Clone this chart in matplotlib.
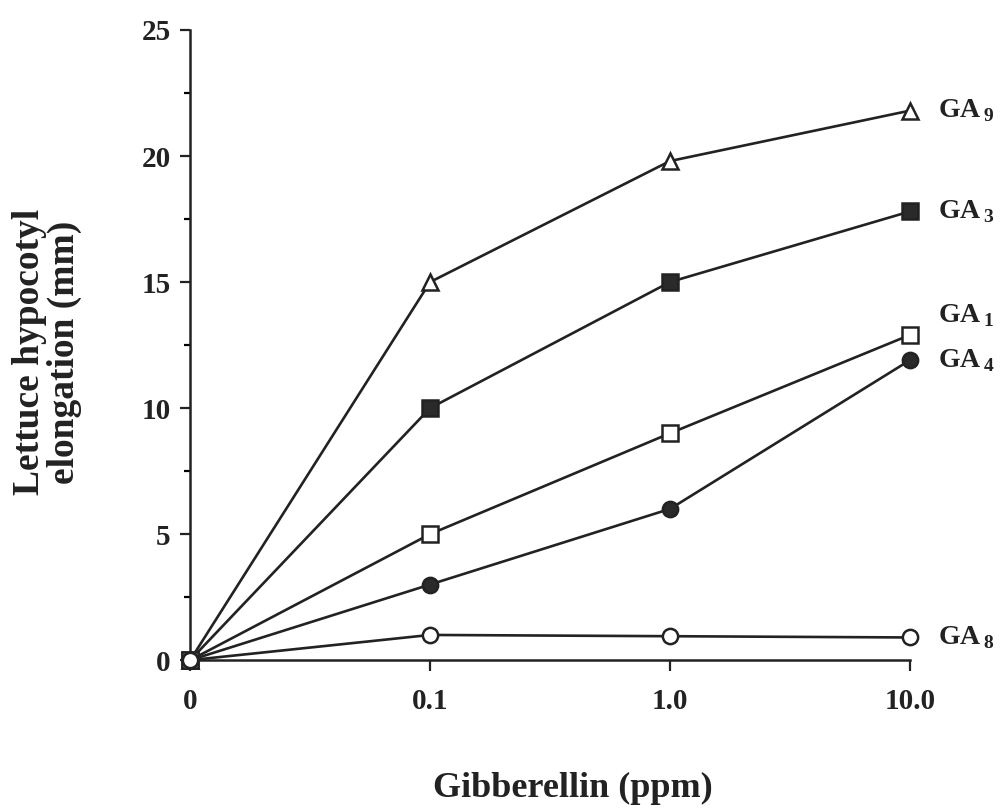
import matplotlib.pyplot as plt
from matplotlib.ticker import MultipleLocator

plt.rcParams['font.family'] = 'Liberation Serif'
plt.rcParams['font.weight'] = 'bold'
plt.rcParams['mathtext.fontset'] = 'custom'
plt.rcParams['mathtext.rm'] = 'Liberation Serif:bold'
plt.rcParams['mathtext.bf'] = 'Liberation Serif:bold'

# gibberellin doses (plotted at equal spacing)
doses = ['0', '0.1', '1.0', '10.0']

# hypocotyl elongation (mm) for each gibberellin
ga9 = [0, 15.0, 19.8, 21.8]
ga3 = [0, 10.0, 15.0, 17.8]
ga1 = [0, 5.0, 9.0, 12.9]
ga4 = [0, 3.0, 6.0, 11.9]
ga8 = [0, 1.0, 0.95, 0.9]

series = [
    (ga9, '^', 'white', '9', 0),
    (ga3, 's', '#2a2a2a', '3', 0),
    (ga1, 's', 'white', '1', 14),
    (ga4, 'o', '#2a2a2a', '4', 0),
    (ga8, 'o', 'white', '8', 0),
]

fig = plt.figure(figsize=(10.01, 8.10), dpi=100)
ax = fig.add_axes([0.19, 0.185, 0.719, 0.778])

x = list(range(len(doses)))
for vals, mk, face, sub, dy in series:
    ax.plot(x, vals, color='#222222', lw=1.9, marker=mk, ms=11,
            mfc=face, mec='#222222', mew=1.8, clip_on=False, zorder=3)
    ax.annotate(r'GA$_{\,' + sub + '}$', xy=(x[-1], vals[-1]),
                xytext=(20, dy), textcoords='offset points',
                va='center', ha='left', fontsize=20, color='#222222',
                annotation_clip=False)

ax.set_xlim(0, 3)
ax.set_ylim(0, 25)
ax.set_xticks(x)
ax.set_xticklabels(doses)
ax.yaxis.set_major_locator(MultipleLocator(5))
ax.yaxis.set_minor_locator(MultipleLocator(2.5))

for s in ['top', 'right']:
    ax.spines[s].set_visible(False)
for s in ['left', 'bottom']:
    ax.spines[s].set_linewidth(1.8)
    ax.spines[s].set_color('#222222')

ax.tick_params(axis='y', which='major', length=7, width=1.6, pad=7,
               labelsize=21, colors='#222222')
ax.tick_params(axis='y', which='minor', length=4, width=1.6)
ax.tick_params(axis='x', length=8, width=1.6, pad=12, labelsize=21,
               colors='#222222')

fig.text(0.572, 0.026, 'Gibberellin (ppm)', ha='center', va='center',
         fontsize=26, color='#222222')
fig.text(0.047, 0.565, 'Lettuce hypocotyl\nelongation (mm)', rotation=90,
         ha='center', va='center', multialignment='center', fontsize=27,
         color='#222222', linespacing=1.0)

fig.savefig('out.png', dpi=100)
